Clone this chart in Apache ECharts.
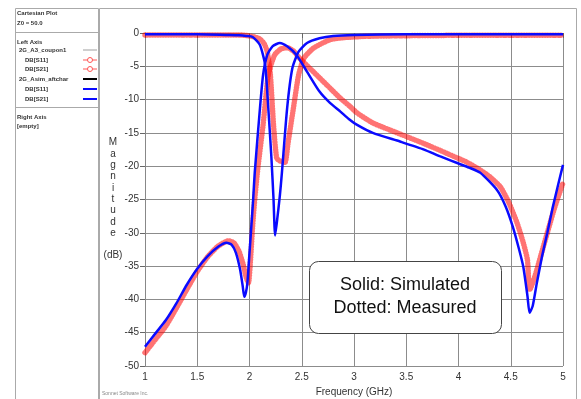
<!DOCTYPE html>
<html>
<head>
<meta charset="utf-8">
<script src="https://cdn.jsdelivr.net/npm/echarts/dist/echarts.min.js"></script>
<style>
  html, body { margin: 0; padding: 0; background: #fff; }
  #main { width: 581px; height: 399px; }
</style>
</head>
<body>
<div id="main"></div>
<script>
// Frequency (GHz) / magnitude (dB)
const simS11Freq = [1.0, 1.5, 1.81, 1.9, 1.97, 2.03, 2.1, 2.15, 2.18, 2.21, 2.23, 2.245, 2.265, 2.29, 2.31, 2.36, 2.41, 2.47, 2.55, 2.67, 2.8, 3.0, 3.5, 4.0, 4.5, 5.0]
const simS11 = [-0.2, -0.2, -0.3, -0.35, -0.45, -0.6, -1.8, -4.8, -11.3, -18.8, -25, -30.4, -28, -24.5, -21, -11.3, -5.3, -2.8, -1.5, -0.8, -0.45, -0.3, -0.2, -0.2, -0.2, -0.2]

const simS21Freq = [1.0, 1.1, 1.2, 1.3, 1.4, 1.5, 1.6, 1.7, 1.78, 1.83, 1.87, 1.91, 1.935, 1.95, 1.965, 1.98, 2.0, 2.02, 2.035, 2.05, 2.1, 2.13, 2.17, 2.22, 2.29, 2.36, 2.45, 2.55, 2.67, 2.77, 2.87, 2.95, 3.03, 3.18, 3.44, 3.67, 3.82, 4.0, 4.1, 4.21, 4.37, 4.45, 4.52, 4.58, 4.62, 4.66, 4.68, 4.71, 4.75, 4.8, 4.85, 4.9, 4.95, 5.0]
const simS21 = [-47.1, -45.1, -43.1, -40.6, -37.8, -35.4, -33.5, -32.1, -31.5, -31.8, -33.0, -35.5, -38, -39.6, -39, -37.5, -33, -28.5, -25, -21, -11.3, -6.3, -3.3, -2.0, -1.5, -2.0, -3.3, -5.8, -8.8, -10.5, -11.8, -12.9, -13.8, -15.0, -16.3, -17.5, -18.5, -19.6, -20.2, -21.0, -23.6, -26.0, -29.1, -32.5, -35.1, -39.5, -42, -41, -37.5, -33.5, -30, -26.3, -23, -19.8]

const measS11Freq = [1.0, 1.5, 1.9, 1.98, 2.05, 2.1, 2.14, 2.17, 2.2, 2.23, 2.26, 2.29, 2.31, 2.34, 2.37, 2.42, 2.47, 2.52, 2.61, 2.77, 2.9, 3.1, 3.5, 4.0, 4.5, 5.0]
const measS11 = [-0.3, -0.3, -0.3, -0.4, -0.6, -0.9, -1.6, -2.8, -6.3, -13.8, -18.8, -19.2, -19.3, -19.4, -16.4, -11.3, -6.3, -3.8, -2.3, -1.0, -0.7, -0.5, -0.4, -0.35, -0.35, -0.35]

const measS21Freq = [1.0, 1.1, 1.2, 1.3, 1.4, 1.5, 1.6, 1.7, 1.8, 1.85, 1.9, 1.94, 1.97, 1.99, 2.01, 2.03, 2.05, 2.08, 2.13, 2.18, 2.24, 2.3, 2.36, 2.42, 2.48, 2.61, 2.74, 2.87, 2.96, 3.03, 3.18, 3.35, 3.51, 3.67, 3.82, 3.95, 4.08, 4.21, 4.3, 4.4, 4.48, 4.56, 4.62, 4.66, 4.68, 4.73, 4.79, 4.85, 4.92, 5.0]
const measS21 = [-48.0, -46.0, -44.0, -41.3, -38.5, -35.8, -33.6, -32.0, -31.2, -31.5, -32.8, -34.8, -36.8, -37.5, -34, -29, -25, -20.3, -13.8, -6.3, -3.3, -2.4, -2.2, -2.7, -3.8, -5.8, -7.8, -9.8, -11.0, -12.0, -13.5, -14.6, -15.6, -16.6, -17.6, -18.5, -19.4, -20.6, -21.6, -23.1, -25.4, -28.5, -31.5, -34.1, -38.6, -36.6, -33.3, -30, -26.2, -22.5]

const xTicks = { min: 1, max: 5, step: 0.5 }
const yTicks = { min: -50, max: 0, step: 5 }

const legendRows = ['2G_A3_coupon1', 'DB[S11]', 'DB[S21]', '2G_Asim_aftchar', 'DB[S11]', 'DB[S21]']
const yName = ['M', 'a', 'g', 'n', 'i', 't', 'u', 'd', 'e']

const FONT = '"Liberation Sans", Arial, sans-serif'

function pairs(f, v) {
  return f.map((x, i) => [x, v[i]])
}

// measured traces: thick band of small circles
function measured(name, f, v) {
  return {
    name: name,
    type: 'line',
    smooth: 0.2,
    data: pairs(f, v),
    showSymbol: false,
    lineStyle: { color: 'rgba(255,0,0,0.55)', width: 5.5, type: [0.1, 2.5], cap: 'round' },
    z: 2
  }
}

function simulated(name, f, v) {
  return {
    name: name,
    type: 'line',
    smooth: 0.2,
    data: pairs(f, v),
    showSymbol: false,
    lineStyle: { color: '#0a0aff', width: 2.5 },
    z: 3
  }
}

// left info panel
const panel = [
  { type: 'rect', shape: { x: 15.5, y: 8.5, width: 83, height: 400 }, style: { fill: '#fff', stroke: '#aaa', lineWidth: 1 } },
  { type: 'line', shape: { x1: 15, y1: 32.5, x2: 98, y2: 32.5 }, style: { stroke: '#aaa' } },
  { type: 'line', shape: { x1: 15, y1: 107.5, x2: 98, y2: 107.5 }, style: { stroke: '#aaa' } },
  { type: 'text', x: 17, y: 10, style: { text: 'Cartesian Plot', font: 'bold 6px ' + FONT, fill: '#333' } },
  { type: 'text', x: 17, y: 20, style: { text: 'Z0 = 50.0', font: 'bold 6px ' + FONT, fill: '#333' } },
  { type: 'text', x: 17, y: 39, style: { text: 'Left Axis', font: 'bold 6px ' + FONT, fill: '#333' } },
  { type: 'text', x: 17, y: 114, style: { text: 'Right Axis', font: 'bold 6px ' + FONT, fill: '#333' } },
  { type: 'text', x: 17, y: 123, style: { text: '[empty]', font: 'bold 6px ' + FONT, fill: '#333' } }
]
const rowY = [50, 60, 69, 79, 89, 99]
legendRows.forEach((t, i) => {
  const top = i === 0 || i === 3
  panel.push({ type: 'text', x: top ? 19 : 25, y: rowY[i] - 3, style: { text: t, font: 'bold 6px ' + FONT, fill: '#333' } })
})
panel.push({ type: 'line', shape: { x1: 83, y1: 50, x2: 97, y2: 50 }, style: { stroke: '#777', lineWidth: 0.7 } })
;[60, 69].forEach(y => {
  panel.push({ type: 'line', shape: { x1: 83, y1: y, x2: 97, y2: y }, style: { stroke: '#f55', lineWidth: 1 } })
  panel.push({ type: 'circle', shape: { cx: 90, cy: y, r: 2.5 }, style: { fill: '#fff', stroke: '#f55', lineWidth: 1 } })
})
panel.push({ type: 'line', shape: { x1: 83, y1: 79, x2: 97, y2: 79 }, style: { stroke: '#000', lineWidth: 2 } })
panel.push({ type: 'line', shape: { x1: 83, y1: 89, x2: 97, y2: 89 }, style: { stroke: '#0a0aff', lineWidth: 2 } })
panel.push({ type: 'line', shape: { x1: 83, y1: 99, x2: 97, y2: 99 }, style: { stroke: '#0a0aff', lineWidth: 2 } })

const extras = [
  { type: 'rect', shape: { x: 99.5, y: 8.5, width: 477, height: 400 }, style: { fill: 'none', stroke: '#aaa', lineWidth: 1 }, z: -1 },
  { type: 'text', x: 113, y: 137, style: { text: yName.join('\n'), font: '10px ' + FONT, fill: '#333', align: 'center', lineHeight: 11.3 } },
  { type: 'text', x: 113, y: 250, style: { text: '(dB)', font: '10px ' + FONT, fill: '#333', align: 'center' } },
  { type: 'text', x: 354, y: 387, style: { text: 'Frequency (GHz)', font: '10px ' + FONT, fill: '#333', align: 'center' } },
  { type: 'text', x: 102, y: 391, style: { text: 'Sonnet Software Inc.', font: '5px ' + FONT, fill: '#888' } },
  { type: 'rect', shape: { x: 309.5, y: 261.5, width: 192, height: 72, r: 9 }, style: { fill: '#fff', stroke: '#444', lineWidth: 1 }, z: 10 },
  { type: 'text', x: 405, y: 276, style: { text: 'Solid: Simulated', font: '18px ' + FONT, fill: '#111', align: 'center' }, z: 11 },
  { type: 'text', x: 405, y: 299, style: { text: 'Dotted: Measured', font: '18px ' + FONT, fill: '#111', align: 'center' }, z: 11 }
]

const axisCommon = {
  type: 'value',
  axisLine: { show: true, lineStyle: { color: '#888' } },
  axisTick: { show: true, length: 5, lineStyle: { color: '#666' } },
  axisLabel: { color: '#333', fontSize: 10, fontFamily: FONT, margin: 6 },
  splitLine: { show: true, lineStyle: { color: '#8c8c8c', width: 1 } }
}

const option = {
  animation: false,
  backgroundColor: '#fff',
  grid: { left: 145, right: 18, top: 33, bottom: 33 },
  xAxis: Object.assign({}, axisCommon, { min: xTicks.min, max: xTicks.max, interval: xTicks.step }),
  yAxis: Object.assign({}, axisCommon, { min: yTicks.min, max: yTicks.max, interval: yTicks.step }),
  series: [
    measured('coupon1 DB[S11]', measS11Freq, measS11),
    measured('coupon1 DB[S21]', measS21Freq, measS21),
    simulated('Asim DB[S11]', simS11Freq, simS11),
    simulated('Asim DB[S21]', simS21Freq, simS21)
  ],
  graphic: { elements: panel.concat(extras) }
}

const chart = echarts.init(document.getElementById('main'))
chart.setOption(option)
</script>
</body>
</html>
